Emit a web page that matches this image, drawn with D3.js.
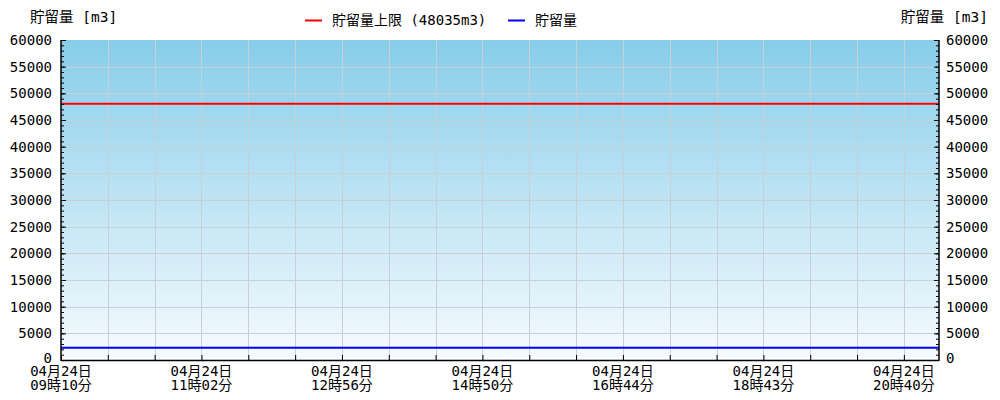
<!DOCTYPE html>
<html>
<head>
<meta charset="utf-8">
<script src="https://cdn.jsdelivr.net/npm/d3@7"></script>
<style>
  html, body { margin: 0; padding: 0; background: #fff; }
  svg { display: block; }
  text { font-family: "DejaVu Sans Mono", "Noto Sans Mono CJK JP", "Noto Sans CJK JP", monospace; font-size: 14px; fill: #000; }
</style>
</head>
<body>
<svg id="chart" width="1000" height="400"></svg>
<script>
// ---- data ----
const tickLabelsDate = ["04月24日", "04月24日", "04月24日", "04月24日", "04月24日", "04月24日", "04月24日"];
const tickLabelsTime = ["09時10分", "11時02分", "12時56分", "14時50分", "16時44分", "18時43分", "20時40分"];
const labelIndex = [0, 36, 72, 108, 144, 180, 216];   // sample index of each labelled tick
const lastIndex = 225;                                  // last sample index
const sampleIndex = [0, 36, 72, 108, 144, 180, 216, 225];
const storage = [2300, 2300, 2300, 2300, 2300, 2300, 2300, 2300];
const storageLimit = 48035;
const yTicks = [0, 5000, 10000, 15000, 20000, 25000, 30000, 35000, 40000, 45000, 50000, 55000, 60000];
const seriesNames = ["貯留量上限 (48035m3)", "貯留量"];
const seriesColors = ["#ff0000", "#0000ff"];
const axisTitle = "貯留量 [m3]";

// ---- layout ----
const svg = d3.select("#chart");
const m = { left: 61, right: 939, top: 40, bottom: 360 };

const x = d3.scaleLinear().domain([0, lastIndex]).range([m.left, m.right]);
const y = d3.scaleLinear().domain([0, 60000]).range([m.bottom, m.top]);

// background gradient
const defs = svg.append("defs");
const grad = defs.append("linearGradient").attr("id", "bg").attr("x1", 0).attr("y1", 0).attr("x2", 0).attr("y2", 1);
grad.append("stop").attr("offset", "0%").attr("stop-color", "#87cde9");
grad.append("stop").attr("offset", "100%").attr("stop-color", "#f7fbff");
svg.append("rect").attr("x", m.left).attr("y", m.top)
  .attr("width", m.right - m.left).attr("height", m.bottom - m.top)
  .attr("fill", "url(#bg)");

// grid
const xTickIdx = d3.range(0, lastIndex + 1, 12);
const grid = svg.append("g").attr("stroke", "#c8cfd6").attr("stroke-width", 1);
grid.selectAll(".hg").data(yTicks.slice(1, -1)).join("line")
  .attr("x1", m.left).attr("x2", m.right)
  .attr("y1", d => Math.round(y(d)) + 0.5).attr("y2", d => Math.round(y(d)) + 0.5);
grid.selectAll(".vg").data(xTickIdx.slice(1)).join("line")
  .attr("y1", m.top).attr("y2", m.bottom)
  .attr("x1", d => Math.round(x(d)) + 0.5).attr("x2", d => Math.round(x(d)) + 0.5);

// series lines
const line = d3.line().x(d => x(d[0])).y(d => y(d[1]));
svg.append("path")
  .datum([[0, storageLimit], [lastIndex, storageLimit]])
  .attr("d", line).attr("fill", "none").attr("stroke", seriesColors[0]).attr("stroke-width", 2);
svg.append("path")
  .datum(sampleIndex.map((d, i) => [d, storage[i]]))
  .attr("d", line).attr("fill", "none").attr("stroke", seriesColors[1]).attr("stroke-width", 2);

// y axes
const yMinor = d3.range(0, 60001, 1000);
function yAxis(side) {
  const isLeft = side === "left";
  const ax = (isLeft ? d3.axisRight(y) : d3.axisLeft(y)).tickValues(yMinor).tickSize(3).tickFormat("");
  const g = svg.append("g").attr("transform", `translate(${isLeft ? m.left : m.right},0)`).call(ax);
  g.select(".domain").remove();
  g.selectAll(".tick line").attr("stroke", "#000");
  const maj = (isLeft ? d3.axisRight(y) : d3.axisLeft(y)).tickValues(yTicks).tickSize(5).tickFormat("");
  const g2 = svg.append("g").attr("transform", `translate(${isLeft ? m.left : m.right},0)`).call(maj);
  g2.select(".domain").remove();
  g2.selectAll(".tick line").attr("stroke", "#000");
  svg.append("line").attr("x1", isLeft ? m.left : m.right).attr("x2", isLeft ? m.left : m.right)
    .attr("y1", m.top).attr("y2", m.bottom + 1).attr("stroke", "#000").attr("stroke-width", 1.5);
  svg.append("g").selectAll("text").data(yTicks).join("text")
    .attr("x", isLeft ? m.left - 9 : m.right + 7)
    .attr("y", d => y(d) - (d === 0 ? 2 : 0))
    .attr("dy", "0.35em")
    .attr("text-anchor", isLeft ? "end" : "start")
    .text(d => d);
}
yAxis("left");
yAxis("right");

// x axis
const xa = d3.axisTop(x).tickValues(xTickIdx).tickSize(5).tickFormat("");
const gx = svg.append("g").attr("transform", `translate(0,${m.bottom})`).call(xa);
gx.select(".domain").remove();
gx.selectAll(".tick line").attr("stroke", "#000");
svg.append("line").attr("x1", m.left).attr("x2", m.right).attr("y1", m.bottom + 0.5).attr("y2", m.bottom + 0.5)
  .attr("stroke", "#000").attr("stroke-width", 1.5);
const xl = svg.append("g").selectAll("text").data(labelIndex).join("text")
  .attr("text-anchor", "middle")
  .attr("x", d => x(d));
xl.append("tspan").attr("x", d => x(d)).attr("y", 376).text((d, i) => tickLabelsDate[i]);
xl.append("tspan").attr("x", d => x(d)).attr("y", 390).text((d, i) => tickLabelsTime[i]);

// axis titles
svg.append("text").attr("x", 30).attr("y", 22).style("font-size", "14.5px").text(axisTitle);
svg.append("text").attr("x", 988).attr("y", 22).attr("text-anchor", "end").style("font-size", "14.5px").text(axisTitle);

// legend
const leg = svg.append("g");
const legX = [305, 508];
seriesNames.forEach((name, i) => {
  leg.append("line").attr("x1", legX[i]).attr("x2", legX[i] + 17).attr("y1", 20.5).attr("y2", 20.5)
    .attr("stroke", seriesColors[i]).attr("stroke-width", 2);
  leg.append("text").attr("x", legX[i] + 27).attr("y", 25).text(name);
});
</script>
</body>
</html>
